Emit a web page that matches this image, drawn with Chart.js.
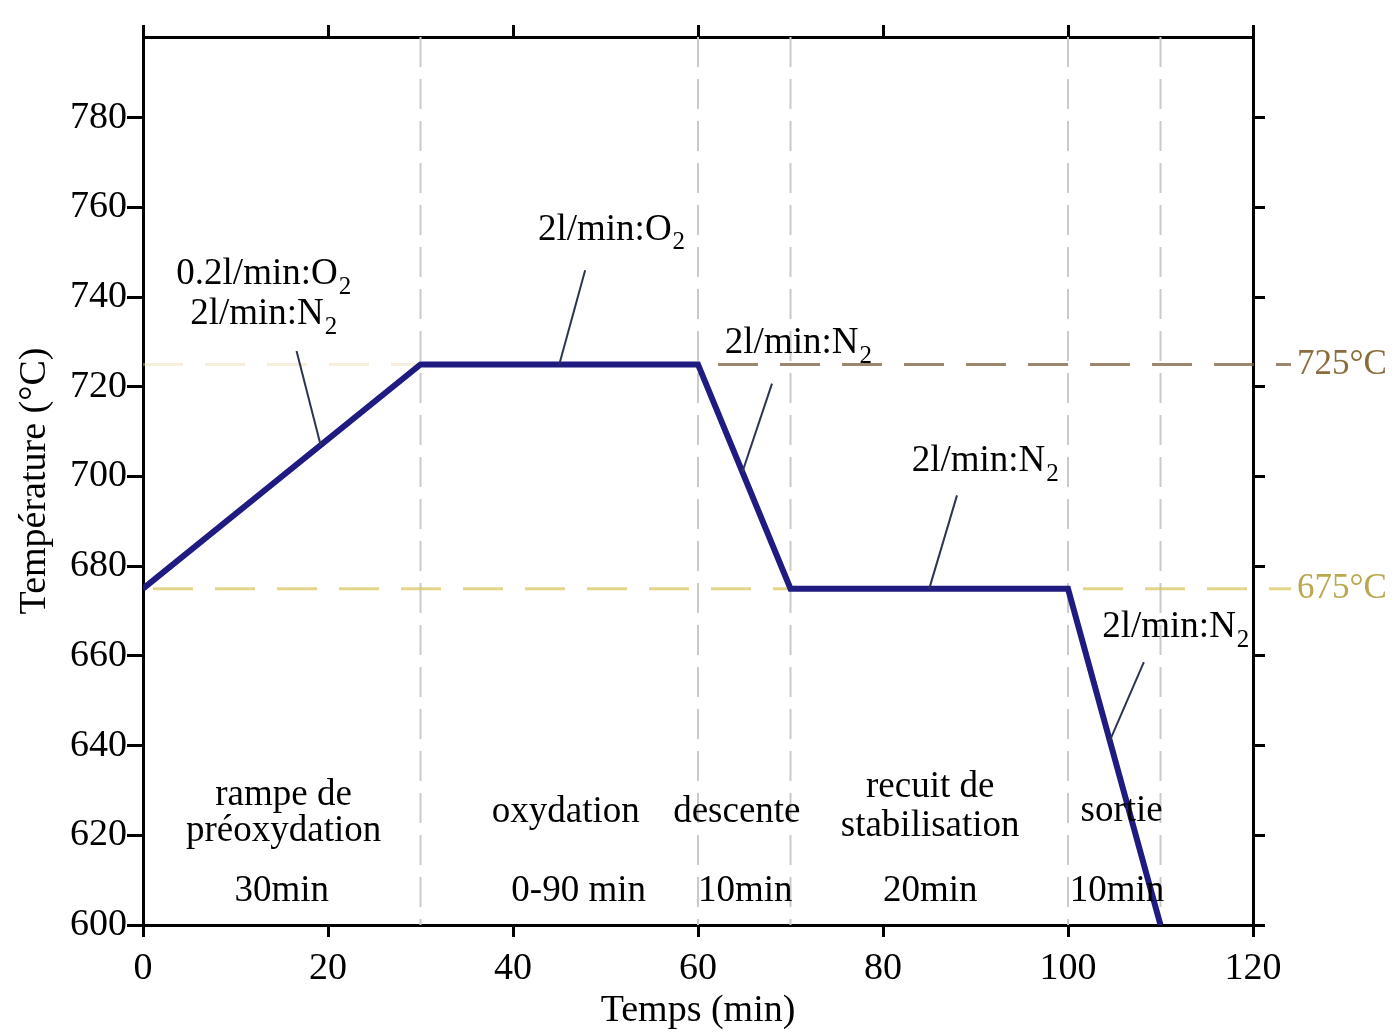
<!DOCTYPE html>
<html>
<head>
<meta charset="utf-8">
<script src="https://cdn.jsdelivr.net/npm/chart.js@4.4.0/dist/chart.umd.min.js"></script>
<style>
  html, body { margin: 0; padding: 0; background: #fff; }
  #wrap { width: 1396px; height: 1034px; }
</style>
</head>
<body>
<div id="wrap"><canvas id="profil" width="1396" height="1034"></canvas></div>
<script>
// profil thermique (temps en min, temperature en °C)
const tempsMin = [0, 30, 60, 70, 100, 110];
const temperature = [675, 725, 725, 675, 675, 600];

const xTicks = [0, 20, 40, 60, 80, 100, 120];
const yTicks = [600, 620, 640, 660, 680, 700, 720, 740, 760, 780];

const phaseLimits = [30, 60, 70, 100, 110];
const refTemps = [725, 675];
const refLabels = ['725°C', '675°C'];

const phaseNames = [['rampe de', 'préoxydation'], ['oxydation'], ['descente'], ['recuit de', 'stabilisation'], ['sortie']];
const phaseTimes = ['30min', '0-90 min', '10min', '20min', '10min'];
const gasLabels = [['0.2l/min:O_2', '2l/min:N_2'], ['2l/min:O_2'], ['2l/min:N_2'], ['2l/min:N_2'], ['2l/min:N_2']];

// placement des textes, en coordonnees du graphe
const phasePos = [{x: 15.2, y: [629, 620.8]}, {x: 45.7, y: [625.2]}, {x: 64.2, y: [625.2]}, {x: 85.1, y: [630.7, 622]}, {x: 105.8, y: [625.4]}];
const timePos = [15, 47.1, 65.1, 85.1, 105.3];
const timeY = 607.5;
const gasPos = [
    {x: 13, y: [745, 736.2], from: [16.6, 728], to: [19.2, 707]},
    {x: 50.6, y: [755], from: [47.8, 746], to: [45, 725]},
    {x: 70.8, y: [729.6], from: [68, 720.7], to: [64.8, 701]},
    {x: 91, y: [703.3], from: [88, 695.8], to: [85, 675]},
    {x: 111.6, y: [666.4], from: [108.2, 658.6], to: [104.5, 641]}
];

const FONT = '"Liberation Serif", "Times New Roman", serif';
const axisFont = {family: FONT, size: 38};

function drawChem(ctx, str, cx, cy) {
    const parts = str.split('_');
    ctx.font = '37px ' + FONT;
    const w1 = ctx.measureText(parts[0]).width;
    ctx.font = '25px ' + FONT;
    const w2 = parts[1] ? ctx.measureText(parts[1]).width : 0;
    const left = cx - (w1 + w2) / 2;
    ctx.textAlign = 'left';
    ctx.textBaseline = 'middle';
    ctx.font = '37px ' + FONT;
    ctx.fillText(parts[0], left, cy);
    if (parts[1]) {
        ctx.font = '25px ' + FONT;
        ctx.fillText(parts[1], left + w1 + 1, cy + 13);
    }
}

const decor = {
    id: 'decor',
    beforeDatasetsDraw(chart) {
        const ctx = chart.ctx, a = chart.chartArea;
        const x = chart.scales.x, y = chart.scales.y;
        ctx.save();
        // limites des phases
        ctx.strokeStyle = '#cacaca';
        ctx.lineWidth = 2;
        ctx.setLineDash([30, 12]);
        phaseLimits.forEach(function (t) {
            const px = x.getPixelForValue(t);
            ctx.beginPath();
            ctx.moveTo(px, a.top);
            ctx.lineTo(px, a.bottom);
            ctx.stroke();
        });
        // paliers
        ctx.setLineDash([40, 22]);
        ctx.lineWidth = 3;
        let py = y.getPixelForValue(refTemps[0]);
        ctx.strokeStyle = 'rgba(230, 215, 165, 0.4)';
        ctx.beginPath();
        ctx.moveTo(a.left, py);
        ctx.lineTo(x.getPixelForValue(60), py);
        ctx.stroke();
        ctx.strokeStyle = 'rgba(120, 95, 60, 0.75)';
        ctx.beginPath();
        ctx.moveTo(x.getPixelForValue(60) + 20, py);
        ctx.lineTo(a.right + 38, py);
        ctx.stroke();
        py = y.getPixelForValue(refTemps[1]);
        ctx.strokeStyle = 'rgba(215, 195, 90, 0.7)';
        ctx.beginPath();
        ctx.moveTo(a.left + 10, py);
        ctx.lineTo(a.right + 38, py);
        ctx.stroke();
        ctx.restore();
    },
    afterDatasetsDraw(chart) {
        const ctx = chart.ctx, a = chart.chartArea;
        const x = chart.scales.x, y = chart.scales.y;
        ctx.save();
        ctx.fillStyle = '#000';
        // phases
        ctx.font = '37px ' + FONT;
        ctx.textAlign = 'center';
        ctx.textBaseline = 'middle';
        phaseNames.forEach(function (lines, i) {
            lines.forEach(function (txt, j) {
                ctx.fillText(txt, x.getPixelForValue(phasePos[i].x), y.getPixelForValue(phasePos[i].y[j]));
            });
            ctx.fillText(phaseTimes[i], x.getPixelForValue(timePos[i]), y.getPixelForValue(timeY));
        });
        // gaz + traits de rappel
        ctx.strokeStyle = '#2b3550';
        ctx.lineWidth = 2;
        gasLabels.forEach(function (lines, i) {
            const g = gasPos[i];
            ctx.beginPath();
            ctx.moveTo(x.getPixelForValue(g.from[0]), y.getPixelForValue(g.from[1]));
            ctx.lineTo(x.getPixelForValue(g.to[0]), y.getPixelForValue(g.to[1]));
            ctx.stroke();
            lines.forEach(function (txt, j) {
                drawChem(ctx, txt, x.getPixelForValue(g.x), y.getPixelForValue(g.y[j]));
            });
        });
        // etiquettes des paliers a droite
        ctx.font = '35px ' + FONT;
        ctx.textAlign = 'left';
        ctx.textBaseline = 'middle';
        const cols = ['#8a6d3c', '#b9a84e'];
        refLabels.forEach(function (txt, i) {
            ctx.fillStyle = cols[i];
            ctx.fillText(txt, a.right + 44, y.getPixelForValue(refTemps[i]));
        });
        ctx.restore();
    }
};

const ctx = document.getElementById('profil');

const profil = new Chart(ctx, {
    type: 'line',
    data: {
        datasets: [{
            data: tempsMin.map(function (t, i) { return {x: t, y: temperature[i]}; }),
            borderColor: '#1f1b80',
            borderWidth: 6,
            pointRadius: 0,
            tension: 0,
            fill: false
        }]
    },
    options: {
        responsive: false,
        animation: false,
        layout: {padding: 0},
        plugins: {
            legend: {display: false},
            tooltip: {enabled: false}
        },
        scales: {
            x: {
                type: 'linear',
                position: 'bottom',
                min: 0,
                max: 120,
                afterBuildTicks: function (s) { s.ticks = xTicks.map(function (v) { return {value: v}; }); },
                afterFit: function (s) { s.height = 109; },
                ticks: {font: axisFont, color: '#000', padding: 9, maxRotation: 0},
                grid: {drawOnChartArea: false, tickLength: 12, color: '#000', lineWidth: 3},
                border: {color: '#000', width: 3},
                title: {display: true, text: 'Temps (min)', font: axisFont, color: '#000', padding: {top: 0, bottom: 0}}
            },
            x2: {
                type: 'linear',
                position: 'top',
                min: 0,
                max: 120,
                afterBuildTicks: function (s) { s.ticks = xTicks.map(function (v) { return {value: v}; }); },
                afterFit: function (s) { s.height = 37; },
                ticks: {display: false},
                grid: {drawOnChartArea: false, tickLength: 12, color: '#000', lineWidth: 3},
                border: {color: '#000', width: 3}
            },
            y: {
                type: 'linear',
                position: 'left',
                min: 600,
                max: 798,
                afterBuildTicks: function (s) { s.ticks = yTicks.map(function (v) { return {value: v}; }); },
                afterFit: function (s) { s.width = 143; },
                ticks: {font: axisFont, color: '#000', padding: 0},
                grid: {drawOnChartArea: false, tickLength: 16, color: '#000', lineWidth: 3},
                border: {color: '#000', width: 3},
                title: {display: true, text: 'Température (°C)', font: {family: FONT, size: 38}, color: '#000', padding: {top: 12, bottom: 0}}
            },
            y2: {
                type: 'linear',
                position: 'right',
                min: 600,
                max: 798,
                afterBuildTicks: function (s) { s.ticks = yTicks.map(function (v) { return {value: v}; }); },
                afterFit: function (s) { s.width = 143; },
                ticks: {display: false},
                grid: {drawOnChartArea: false, tickLength: 12, color: '#000', lineWidth: 3},
                border: {color: '#000', width: 3}
            }
        }
    },
    plugins: [decor]
});
</script>
</body>
</html>
